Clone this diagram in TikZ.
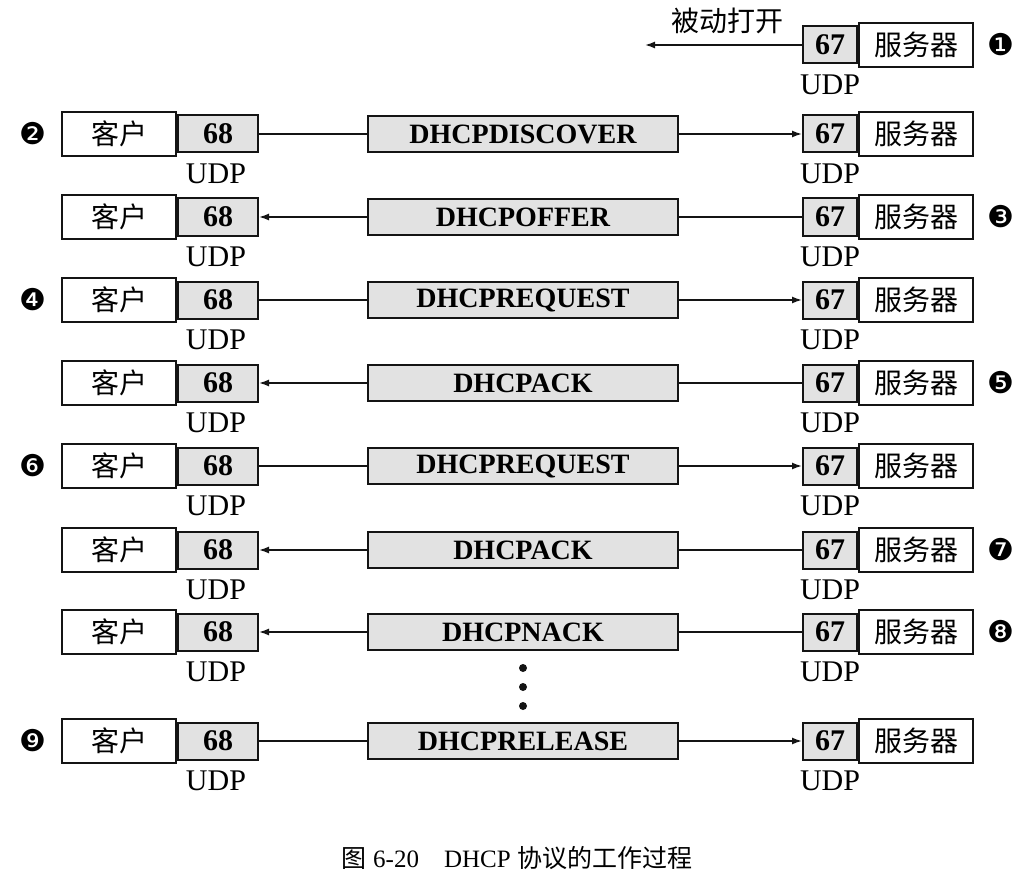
\documentclass[tikz,border=0pt]{standalone}
\usepackage{fontspec}
\setmainfont{Liberation Serif}
\newfontfamily\cjk{Noto Sans CJK SC}
\newfontfamily\dingfont{DejaVu Sans}
\usetikzlibrary{arrows.meta,positioning}
\definecolor{dhcpgray}{RGB}{226,226,226}
\definecolor{dhcpdark}{RGB}{20,20,20}
\tikzset{
  host box/.style={
    draw=dhcpdark,
    line width=1pt,
    minimum width=57pt,
    minimum height=22pt,
    inner sep=0pt,
    font=\cjk\fontsize{14}{16}\selectfont,
  },
  port box/.style={
    draw=dhcpdark,
    fill=dhcpgray,
    line width=1pt,
    minimum height=18.5pt,
    inner sep=0pt,
    font=\bfseries\fontsize{15}{17}\selectfont,
  },
  msg box/.style={
    draw=dhcpdark,
    fill=dhcpgray,
    line width=1pt,
    minimum width=155pt,
    minimum height=18pt,
    inner sep=0pt,
    font=\bfseries\fontsize{14}{16}\selectfont,
  },
  udp label/.style={font=\fontsize{15}{17}\selectfont, inner sep=0pt},
  step num/.style={font=\dingfont\fontsize{15}{17}\selectfont, inner sep=0pt},
  msg line/.style={
    line width=0.75pt,
    draw=dhcpdark,
    >={Latex[length=5pt,width=3.5pt]},
  },
}
\begin{document}
\begin{tikzpicture}[x=0.5pt,y=-0.5pt]
  \useasboundingbox (0,0) rectangle (1034,888);
  % passive open on the server
  \node[port box, minimum width=27pt] (sp1) at (830,45) {67};
  \node[host box, right=0pt of sp1] (s1) {服务器};
  \node[udp label] (u1) at (830,85) {UDP};
  \node[step num] (n1) at (1001,45) {❶};
  \node[font=\cjk\fontsize{14}{16}\selectfont] (open label) at (727,21) {被动打开};
  \coordinate (open) at (645,45);
  \draw[msg line, ->] (sp1) -- (open);
  % message exchange
  \foreach \i/\y/\msg/\l/\r/\nx/\num in {
      2/134/DHCPDISCOVER/-/->/33/❷,
      3/217/DHCPOFFER/<-/-/1001/❸,
      4/300/DHCPREQUEST/-/->/33/❹,
      5/383/DHCPACK/<-/-/1001/❺,
      6/466/DHCPREQUEST/-/->/33/❻,
      7/550/DHCPACK/<-/-/1001/❼,
      8/632/DHCPNACK/<-/-/1001/❽,
      9/741/DHCPRELEASE/-/->/33/❾}{
    \node[host box] (c\i) at (119,\y) {客户};
    \node[port box, minimum width=40pt, right=0pt of c\i] (cp\i) {68};
    \node[udp label] (cu\i) at (216,\y+40) {UDP};
    \node[msg box] (m\i) at (523,\y) {\msg};
    \node[port box, minimum width=27pt] (sp\i) at (830,\y) {67};
    \node[host box, right=0pt of sp\i] (s\i) {服务器};
    \node[udp label] (su\i) at (830,\y+40) {UDP};
    \node[step num] (n\i) at (\nx,\y) {\num};
    \draw[msg line, \l] (cp\i) -- (m\i);
    \draw[msg line, \r] (m\i) -- (sp\i);
  }
  % more messages
  \foreach \d in {668,687,706}
    \fill[dhcpdark] (523,\d) circle (4);
  \node[font=\fontsize{12.5}{14}\selectfont] (caption) at (517,858)
    {{\cjk 图} 6-20\quad DHCP {\cjk 协议的工作过程}};
\end{tikzpicture}
\end{document}
